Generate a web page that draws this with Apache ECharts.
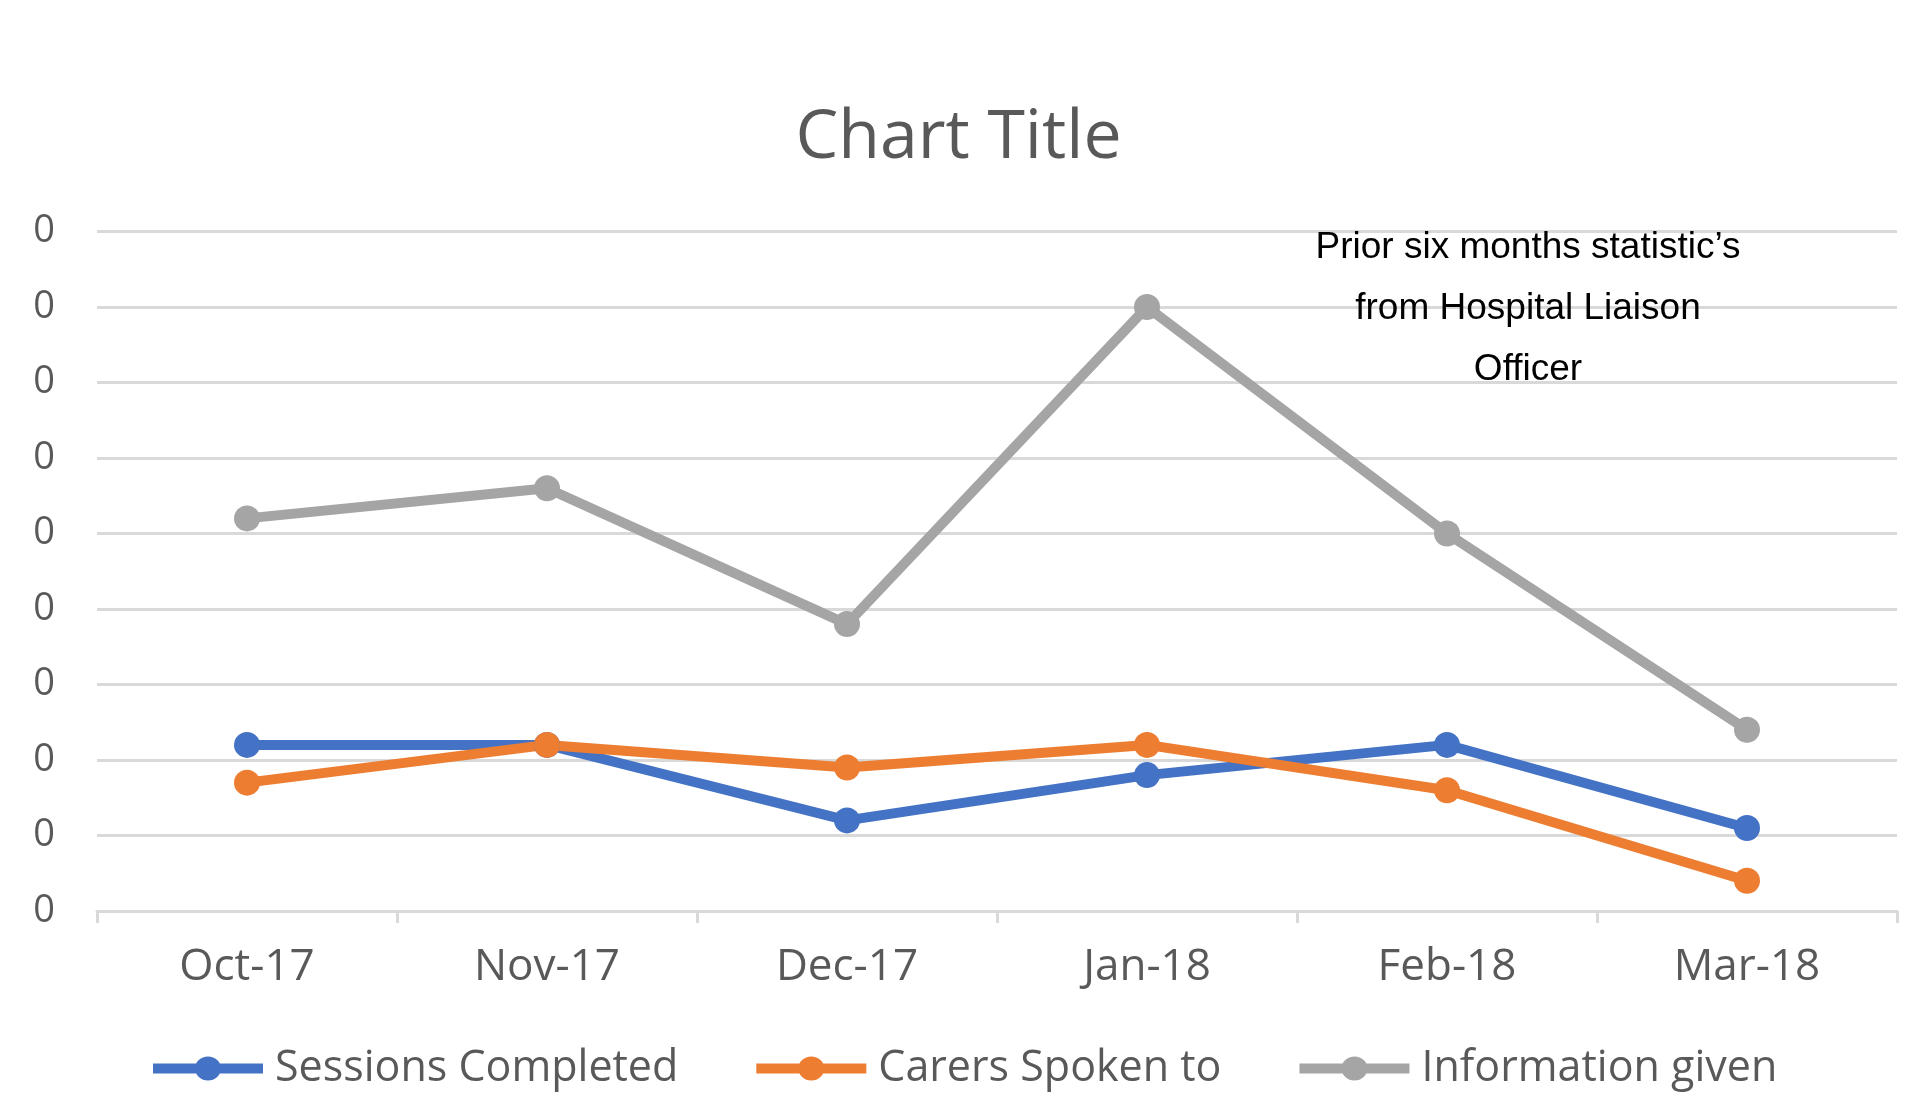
<!DOCTYPE html>
<html>
<head>
<meta charset="utf-8">
<script src="https://cdn.jsdelivr.net/npm/echarts@6/dist/echarts.min.js"></script>
<style>
    html, body { margin: 0; padding: 0; background: #fff; overflow: hidden; }
    /* the source picture was cropped on the left, cutting the first digit of the y labels */
    #crop { position: absolute; left: 33px; top: 0; width: 1884px; height: 1106px; overflow: hidden; }
    #chart { position: absolute; left: -33px; top: 0; width: 1917px; height: 1106px; }
</style>
</head>
<body>
<div id="crop"><div id="chart"></div></div>
<script>
    // 数据
    const months = ['Oct-17', 'Nov-17', 'Dec-17', 'Jan-18', 'Feb-18', 'Mar-18'];
    const sessionsCompleted = [22, 22, 12, 18, 22, 11];
    const carersSpokenTo = [17, 22, 19, 22, 16, 4];
    const informationGiven = [52, 56, 38, 80, 50, 24];
    const yTicks = { min: 0, max: 90, step: 10 };
    const noteLines = ['Prior six months statistic’s', 'from Hospital Liaison', 'Officer'];

    const grey = '#595959';
    const gridColor = '#d9d9d9';
    const font = 'Open Sans';
    // thick line with a dot in the middle, like the Excel legend keys
    const legendIcon = 'path://M0,7L110,7L110,17L0,17Z M42,12a13,12 0 1,1 26,0a13,12 0 1,1 -26,0Z';

    function lineSeries(name, data, color) {
        return {
            name: name,
            type: 'line',
            data: data,
            symbol: 'circle',
            symbolSize: 26,
            itemStyle: { color: color },
            lineStyle: { color: color, width: 10 },
            z: 3
        };
    }

    const chart = echarts.init(document.getElementById('chart'));
    chart.setOption({
        animation: false,
        backgroundColor: '#fff',
        title: {
            text: 'Chart Title',
            left: 'center',
            top: 100,
            textStyle: { fontFamily: font, fontSize: 68, fontWeight: 'normal', color: grey }
        },
        legend: {
            left: 148,
            top: 1042,
            itemWidth: 110,
            itemHeight: 24,
            itemGap: 78,
            icon: legendIcon,
            textStyle: { fontFamily: font, fontSize: 43, color: grey, padding: [0, 0, 0, 7] },
            data: ['Sessions Completed', 'Carers Spoken to', 'Information given']
        },
        grid: {
            left: 97,
            right: 20,
            top: 231.5,
            bottom: 195
        },
        xAxis: {
            type: 'category',
            data: months,
            axisLine: { lineStyle: { color: gridColor, width: 3 } },
            axisTick: { show: true, length: 12, lineStyle: { color: gridColor, width: 3 } },
            axisLabel: { fontFamily: font, fontSize: 44, color: grey, margin: 34 }
        },
        yAxis: {
            type: 'value',
            min: yTicks.min,
            max: yTicks.max,
            interval: yTicks.step,
            axisLine: { show: false },
            axisTick: { show: false },
            axisLabel: { fontFamily: font, fontSize: 38, color: grey, margin: 42 },
            splitLine: { lineStyle: { color: gridColor, width: 3 } }
        },
        graphic: [{
            type: 'text',
            x: 1528,
            y: 217,
            style: {
                text: noteLines.join('\n'),
                textAlign: 'center',
                fontFamily: 'Liberation Sans',
                fontSize: 37,
                lineHeight: 61,
                fill: '#000'
            },
            z: 10
        }],
        series: [
            lineSeries('Sessions Completed', sessionsCompleted, '#4472C4'),
            lineSeries('Carers Spoken to', carersSpokenTo, '#ED7D31'),
            lineSeries('Information given', informationGiven, '#A5A5A5')
        ]
    });
</script>
</body>
</html>
